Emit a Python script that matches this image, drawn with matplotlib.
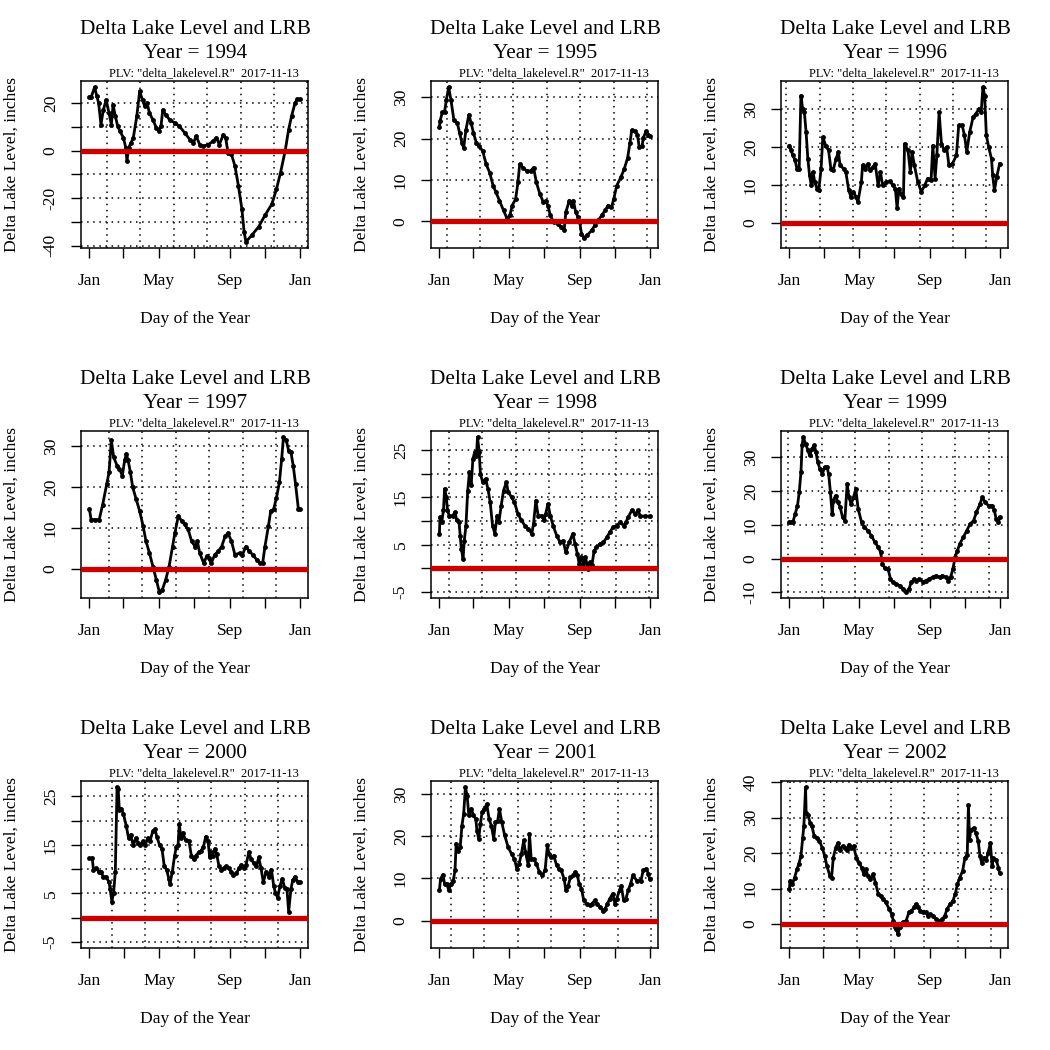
import datetime as dt
import math
import matplotlib
matplotlib.use("Agg")
import matplotlib.pyplot as plt

# lake level readings (day of year, inches)
years = [1994, 1995, 1996, 1997, 1998, 1999, 2000, 2001, 2002]

day_1994 = [0, 3, 9, 13, 16, 20, 24, 29, 34, 38, 41, 45, 49, 53, 59, 63, 65, 68, 72, 76, 82, 87, 92, 96, 100,
            104, 110, 116, 120, 124, 127, 132, 139, 148, 156, 165, 174, 180, 185, 191, 197, 206, 214, 220, 225,
            232, 236, 240, 246, 252, 258, 264, 268, 271, 281, 293, 304, 316, 324, 331, 339, 345, 350, 356, 360, 364]
lvl_1994 = [22.5, 22.5, 26.7, 22.8, 20, 11, 17, 21.4, 15.8, 11, 19.3, 14.4, 10.3, 8.2, 5.4, 1.25, -4.3, 1.25, 3.3,
            5.4, 14.4, 24.9, 21.4, 18.6, 20, 15.8, 13, 9.6, 8.2, 10.3, 17.2, 15.1, 13, 11.7, 10.3, 7.5, 4.7, 3.3,
            6.1, 2.6, 1.9, 2.6, 4, 5.4, 2.6, 6.8, 5.4, -0.8, -1.5, -6.4, -14.7, -24.4, -34.2, -38.3, -35.6, -32,
            -27.2, -22.4, -16.1, -9.2, -0.1, 8.9, 14.4, 20, 21.7, 21.7]

day_1995 = [0, 1, 5, 9, 12, 16, 20, 25, 31, 35, 39, 42, 46, 51, 55, 59, 64, 69, 75, 81, 87, 93, 98, 104, 111,
            117, 122, 126, 132, 136, 139, 145, 151, 158, 163, 168, 174, 180, 184, 188, 192, 198, 206, 211, 216,
            219, 225, 229, 232, 236, 240, 243, 246, 250, 256, 264, 269, 275, 281, 287, 292, 298, 302, 307, 314,
            320, 326, 330, 333, 339, 343, 346, 351, 353, 358, 362, 364]
lvl_1995 = [22.9, 24.2, 26.4, 26.6, 29.4, 32.5, 29.4, 24.6, 23.8, 21.4, 19, 17.8, 22.2, 25.8, 23.8, 21.4, 19,
            18.2, 17, 13.8, 11.8, 8.6, 7, 5, 2.6, 0.7, 1.4, 3.8, 5.4, 9.4, 13.8, 13, 12.2, 12.2, 13, 9.4, 6.6,
            4.6, 5, 3.8, 1.4, -0.2, -0.6, -1.4, -2.2, 2.2, 5, 3.8, 5, 2.2, 1, -0.2, -3, -4, -3.4, -2.2, -1, 0.2,
            1.4, 2.6, 3.8, 3.4, 5.4, 8.6, 10.6, 12.6, 15.4, 19, 22, 21.8, 21, 18, 18.2, 20.2, 21.8, 21, 20.6]

day_1996 = [0, 3, 6, 10, 13, 17, 20, 23, 26, 29, 32, 35, 38, 41, 44, 48, 51, 55, 58, 63, 68, 72, 76, 81, 85,
            88, 94, 98, 103, 107, 111, 116, 119, 125, 127, 132, 136, 140, 145, 149, 154, 158, 162, 168, 174,
            180, 184, 187, 190, 194, 198, 200, 206, 210, 213, 217, 223, 229, 235, 240, 246, 249, 253, 256, 260,
            264, 269, 273, 277, 283, 290, 294, 300, 304, 308, 313, 319, 324, 329, 333, 336, 339, 342, 346, 351,
            353, 356, 360, 365]
lvl_1996 = [20.4, 19.1, 17.8, 16.5, 14.3, 14.3, 33.6, 30.1, 29.2, 23.9, 16.9, 12.5, 9.9, 13.4, 10.8, 9, 8.6,
            14.3, 22.6, 20.4, 19.1, 14.3, 13.9, 16.9, 18.7, 15.2, 14.3, 13.4, 8.6, 6.8, 8.2, 6.8, 5.5, 10.8,
            15.2, 14.3, 15.6, 13.9, 14.7, 15.6, 9.9, 13.4, 9.9, 10.8, 11, 9.9, 9, 3.8, 9, 7.7, 6.8, 20.9, 19.1,
            13.4, 18.7, 15.2, 10.8, 8.2, 9.9, 11.7, 11.2, 20.4, 11.7, 17.8, 29.2, 20.9, 19.1, 20, 15.2, 15.6,
            17.8, 25.7, 25.7, 23.1, 18.7, 23.9, 27.9, 28.8, 30.1, 29.2, 35.8, 33.6, 23.1, 20, 16.9, 12.5, 8.6,
            12.1, 15.6]

day_1997 = [0, 3, 9, 17, 23, 30, 34, 38, 42, 48, 52, 57, 61, 64, 67, 71, 75, 81, 87, 93, 98, 104, 110, 116,
            121, 126, 132, 138, 144, 148, 154, 160, 165, 171, 177, 183, 187, 191, 198, 203, 207, 211, 217, 223,
            229, 235, 240, 246, 252, 260, 265, 271, 277, 283, 290, 295, 300, 304, 310, 314, 319, 324, 329, 333,
            336, 341, 345, 349, 353, 357, 362, 364]
lvl_1997 = [14.5, 12, 12, 12, 15.7, 20.7, 23.6, 31.4, 27.3, 25.2, 24.4, 22.8, 26.5, 28.1, 26.5, 23.6, 19.9,
            17, 14.1, 10.4, 6.7, 3.8, 0.5, -2.8, -5.7, -5.3, -2.8, 0.5, 5.4, 8.7, 12.9, 11.6, 10.8, 9.6, 6.7,
            5.4, 6.7, 3.8, 1.3, 3, 2.6, 1.3, 3.4, 4.2, 5.4, 7.9, 8.7, 6.7, 3.4, 3.8, 3.4, 5.4, 4.2, 3.4, 2.1,
            1.3, 1.3, 5.4, 10.4, 14.1, 14.5, 17.4, 21.1, 26.9, 32.2, 31.4, 28.9, 28.5, 25.2, 20.7, 14.5, 14.5]

day_1998 = [0, 1, 4, 7, 9, 12, 14, 17, 23, 27, 30, 34, 36, 38, 41, 43, 46, 49, 52, 55, 58, 61, 64, 66, 69,
            71, 75, 80, 84, 88, 92, 96, 100, 103, 107, 111, 116, 119, 125, 130, 136, 142, 148, 154, 160, 163,
            167, 171, 177, 181, 184, 188, 192, 197, 203, 209, 214, 219, 225, 231, 235, 239, 242, 246, 249, 253,
            257, 261, 264, 268, 272, 278, 284, 290, 295, 301, 307, 313, 319, 323, 327, 333, 339, 344, 348, 356,
            364]
lvl_1998 = [7.3, 10.8, 9.7, 12.2, 16.8, 15, 12.2, 11.1, 11.1, 11.8, 10.1, 9.7, 6.9, 4.1, 2, 5.8, 9, 16.4,
            20.3, 17.5, 23.1, 24.5, 23.8, 27.7, 24.5, 19.9, 18.2, 18.9, 16.8, 13.9, 9, 7.3, 11.1, 9.7, 13.2,
            16.4, 18.2, 16.1, 15, 13.9, 11.5, 10.1, 9, 8.3, 7.3, 9.4, 14.3, 11.1, 11.1, 10.1, 11.5, 13.6, 11.1,
            9, 6.9, 5.5, 5.8, 3.4, 5.5, 7.3, 5.1, 3, 0.9, 2.3, 0.9, 2.3, -0.1, 1.3, 0.6, 3.7, 4.4, 5.1, 5.5,
            6.5, 7.6, 8.7, 9, 9.7, 9, 9.7, 10.8, 12.2, 11.5, 12.2, 11, 11, 11]

day_1999 = [0, 3, 6, 10, 14, 17, 20, 22, 24, 28, 32, 35, 39, 43, 46, 49, 53, 57, 61, 65, 68, 71, 74, 76, 80,
            84, 88, 92, 96, 100, 103, 107, 111, 115, 119, 125, 130, 136, 142, 148, 154, 158, 161, 165, 171,
            175, 180, 185, 191, 197, 202, 207, 211, 216, 220, 225, 231, 236, 242, 248, 254, 260, 265, 271, 275,
            279, 283, 287, 291, 295, 301, 307, 313, 319, 324, 330, 334, 339, 345, 351, 355, 358, 362, 364]
lvl_1999 = [10.8, 10.8, 10.8, 13.3, 15.7, 19.7, 25.6, 33.6, 36, 34.1, 32.1, 30.6, 32.6, 33.6, 31.6, 28.6,
            26.6, 25.1, 27.1, 27.1, 25.1, 19.7, 13.3, 17.2, 18.7, 16.7, 15.2, 12.3, 11.3, 22.2, 18.2, 16.2,
            18.2, 20.7, 14.8, 10.8, 9.3, 8.3, 6.8, 4.9, 3.4, 1.9, -1.6, -2.6, -3.1, -6, -7, -7.5, -8, -9, -9.8,
            -9, -7, -6, -6.5, -6, -6.8, -6.5, -6, -5.5, -5, -5.5, -5, -5.5, -6.5, -5.5, -3.1, 0.4, 2.4, 4.4,
            6.3, 8.3, 10.3, 11.3, 13.8, 16.2, 18.2, 16.7, 15.7, 15.7, 14.3, 11.8, 10.8, 12.3]

day_2000 = [0, 5, 7, 12, 16, 20, 24, 29, 34, 36, 39, 42, 45, 48, 50, 52, 55, 59, 64, 68, 72, 76, 81, 85, 88,
            93, 97, 101, 105, 110, 114, 117, 122, 126, 130, 134, 138, 140, 144, 148, 151, 154, 156, 159, 162,
            167, 173, 177, 181, 185, 190, 194, 198, 202, 206, 209, 211, 214, 218, 221, 225, 229, 233, 238, 242,
            246, 250, 255, 260, 264, 268, 272, 277, 281, 285, 290, 294, 298, 302, 307, 312, 316, 320, 323, 327,
            331, 335, 339, 343, 346, 350, 353, 357, 362, 365]
lvl_2000 = [12.2, 12.2, 9.9, 10.2, 9.5, 9.5, 8.4, 8.4, 7.3, 5.9, 3.3, 5.1, 9.5, 26.9, 26.5, 22.2, 22.5, 21.4,
            18.9, 16.4, 17.1, 14.9, 16.4, 15.3, 14.9, 15.7, 14.9, 16.4, 15.7, 17.8, 18.2, 16.7, 14.9, 14.2,
            10.6, 9.9, 8, 7, 9.5, 12.8, 14.6, 14.9, 19.3, 16.4, 17.5, 16, 15.7, 12.8, 12, 12.8, 13.5, 13.8,
            14.6, 16.7, 15.7, 12.4, 13.5, 12.8, 14.2, 13.1, 10.6, 9.9, 10.2, 10.6, 10.2, 9.5, 8.8, 9.1, 10.2,
            10.9, 10.2, 10.9, 13.5, 12, 11.3, 10.6, 12.4, 10.2, 7.3, 9.5, 8.4, 9.9, 6.6, 5.1, 4.1, 6.6, 8, 6.2,
            5.9, 1.2, 5.9, 7.7, 8.4, 7.3, 7.3]

day_2001 = [0, 2, 6, 9, 13, 16, 20, 24, 27, 29, 32, 36, 39, 42, 45, 48, 51, 55, 59, 63, 65, 68, 71, 74, 78,
            82, 86, 90, 94, 97, 101, 104, 108, 113, 119, 125, 130, 134, 138, 142, 146, 149, 154, 156, 159, 163,
            168, 173, 178, 183, 187, 190, 194, 198, 203, 207, 211, 216, 219, 223, 227, 232, 235, 239, 242, 246,
            250, 255, 260, 264, 269, 273, 278, 283, 287, 291, 295, 300, 304, 307, 312, 315, 319, 323, 327, 331,
            335, 342, 349, 353, 358, 362, 364]
lvl_2001 = [7.2, 9.9, 10.9, 8.7, 8.7, 7.2, 8.7, 9.5, 11.9, 18.2, 16.6, 17.4, 22.5, 25.3, 31.6, 29.6, 24.9,
            26.5, 24.9, 24.1, 21.3, 19.4, 22.9, 25.7, 26.5, 27.6, 24.1, 22.5, 19.4, 23.3, 23.7, 26.5, 23.3,
            20.2, 17.4, 15.8, 14.6, 12.3, 13.5, 15.8, 19, 16.2, 13.1, 20.6, 14.6, 14.6, 13.5, 11.5, 10.7, 11.9,
            17.8, 15.8, 15, 15.4, 13.1, 12.3, 11.9, 9.9, 7.2, 8.3, 10.3, 10.7, 11.5, 10.7, 8.7, 7.6, 4.8, 4,
            3.6, 4, 4.8, 4, 3.2, 2.4, 2.8, 4, 5.2, 6.4, 4, 5.2, 7.2, 8.3, 4.8, 5.2, 7.2, 8.7, 10.7, 9.5, 9.5,
            11.9, 12.3, 11.1, 9.9]

day_2002 = [0, 1, 5, 9, 13, 16, 20, 23, 25, 28, 29, 32, 36, 39, 43, 48, 52, 57, 61, 65, 70, 73, 76, 80, 84,
            87, 92, 96, 100, 103, 107, 111, 116, 121, 125, 129, 132, 136, 140, 145, 149, 154, 158, 162, 167,
            173, 177, 180, 183, 185, 188, 191, 196, 202, 207, 211, 216, 219, 223, 227, 232, 236, 240, 244, 249,
            254, 260, 265, 269, 273, 278, 283, 287, 291, 295, 300, 304, 308, 310, 312, 314, 319, 323, 327, 330,
            333, 337, 341, 344, 348, 351, 353, 358, 362, 364]
lvl_2002 = [9.8, 12.1, 11.2, 13.1, 15.4, 16.8, 19.2, 24.3, 27.6, 38.6, 31.3, 30.8, 28.5, 27.6, 24.8, 24.3,
            23.4, 21.5, 19.2, 16.4, 13.6, 13.1, 18.7, 21.5, 22.9, 21, 22, 21.5, 21, 22.4, 21.5, 22, 18.7, 17.3,
            15.9, 14, 15.4, 13.6, 12.6, 14, 11.7, 8.4, 7.9, 7, 6.1, 4.2, 2.8, 0.9, -0.9, -1.4, -2.8, -0.9, 0.5,
            0.9, 3.3, 3.7, 4.7, 5.6, 4.7, 3.7, 3.3, 3.3, 2.3, 2.8, 2.3, 1.4, 0.9, 1.4, 2.3, 4.2, 5.6, 6.5, 8.4,
            11.2, 13.1, 15, 18.7, 19.6, 33.6, 23.8, 26.6, 27.1, 25.7, 23.4, 19.2, 17.3, 18.7, 18.2, 20.1, 22.9,
            16.4, 18.7, 18.2, 15.9, 14.5]

days = [day_1994, day_1995, day_1996, day_1997, day_1998, day_1999, day_2000, day_2001, day_2002]
levels = [lvl_1994, lvl_1995, lvl_1996, lvl_1997, lvl_1998, lvl_1999, lvl_2000, lvl_2001, lvl_2002]

y_step = [10, 10, 10, 10, 5, 10, 5, 10, 10]
y_label_every = [2, 1, 1, 1, 2, 1, 2, 1, 1]
tick_months = [1, 3, 5, 7, 9, 11]
month_labels = ["Jan", "", "May", "", "Sep", "", "Jan"]
subtitle = 'PLV: "delta_lakelevel.R"  2017-11-13'

plt.rcParams['font.family'] = ['Liberation Serif', 'DejaVu Serif']

W = H = 1050.0
fig = plt.figure(figsize=(10.5, 10.5), dpi=100)


def fx(x):
    return x / W


def fy(y):
    return 1 - y / H


epoch = dt.datetime(1970, 1, 1)

for i, yr in enumerate(years):
    r, c = divmod(i, 3)
    x0, y0 = c * 350, r * 350
    ax = fig.add_axes([fx(x0 + 81), fy(y0 + 248), 227 / W, 167 / H])
    d = days[i]
    v = levels[i]

    # R style limits: 4% padding, y range always reaches -5
    xlo, xhi = min(d), max(d)
    xpad = 0.04 * (xhi - xlo)
    ax.set_xlim(xlo - xpad, xhi + xpad)
    lo, hi = min(min(v), -5), max(v)
    ypad = 0.04 * (hi - lo)
    ax.set_ylim(lo - ypad, hi + ypad)

    # x ticks at month starts
    jan1 = dt.date(yr, 1, 1)
    xt = [(dt.date(yr, m, 1) - jan1).days for m in tick_months] + [(dt.date(yr + 1, 1, 1) - jan1).days]
    ax.set_xticks(xt)
    ax.set_xticklabels(month_labels)

    # y ticks
    st = y_step[i]
    k0 = math.ceil((lo - ypad) / st)
    k1 = math.floor((hi + ypad) / st)
    yt = [k * st for k in range(k0, k1 + 1)]
    ax.set_yticks(yt)
    ax.set_yticklabels([str(t) if j % y_label_every[i] == 0 else "" for j, t in enumerate(yt)])

    ax.tick_params(axis='both', direction='out', length=7, width=1, labelsize=12.6)
    ax.tick_params(axis='x', pad=11)
    ax.tick_params(axis='y', pad=9, labelrotation=90)
    for lab in ax.get_yticklabels():
        lab.set_va('center')

    # grid: vertical lines at R's pretty() of POSIXct seconds (5e6 s steps)
    t0 = (dt.datetime(yr, 1, 1) - epoch).total_seconds()
    a = (xlo - xpad) * 86400 + t0
    b = (xhi + xpad) * 86400 + t0
    for k in range(math.ceil(a / 5e6), math.floor(b / 5e6) + 1):
        ax.axvline((k * 5e6 - t0) / 86400, color='black', lw=1.1, ls=(0, (1, 3)), zorder=1)
    for t in yt:
        ax.axhline(t, color='black', lw=1.1, ls=(0, (1, 3)), zorder=1)

    ax.plot(d, v, color='black', lw=2.0, marker='o', ms=3.5, mew=0, zorder=3)
    ax.axhline(0, color='#CD0000', lw=3.8, zorder=4)

    for s in ax.spines.values():
        s.set_linewidth(1.1)

    fig.text(fx(x0 + 195), fy(y0 + 30), "Delta Lake Level and LRB", ha='center', va='center', fontsize=15.3)
    fig.text(fx(x0 + 195), fy(y0 + 53), "Year = %d" % yr, ha='center', va='center', fontsize=15.3)
    fig.text(fx(x0 + 204), fy(y0 + 73), subtitle, ha='center', va='center', fontsize=9)
    fig.text(fx(x0 + 195), fy(y0 + 319), "Day of the Year", ha='center', va='center', fontsize=12.6)
    fig.text(fx(x0 + 12), fy(y0 + 165), "Delta Lake Level, inches", ha='center', va='center',
             rotation=90, fontsize=12.6)

fig.savefig("out.png", dpi=100, facecolor='white')
